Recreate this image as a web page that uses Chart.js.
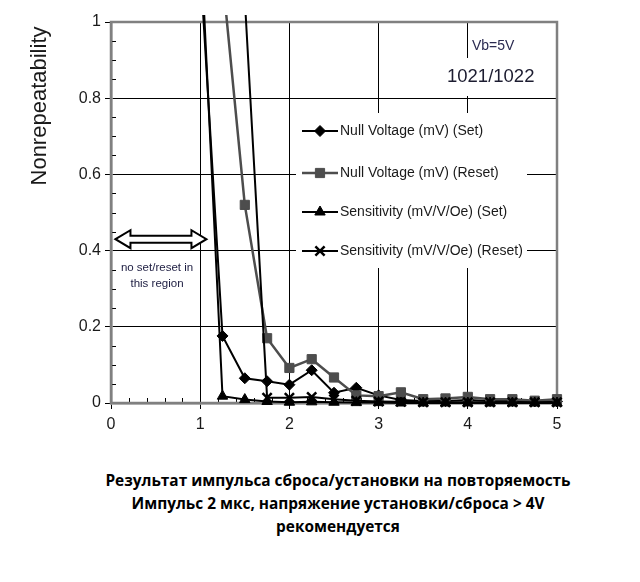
<!DOCTYPE html>
<html>
<head>
<meta charset="utf-8">
<script src="https://cdn.jsdelivr.net/npm/chart.js"></script>
<style>
  body { margin: 0; background: #fff; }
  #wrap { position: relative; width: 640px; height: 440px; }
  #caption {
    position: absolute; top: 469px; left: 0; width: 676px;
    text-align: center; font: bold 15.4px "Open Sans", sans-serif;
    line-height: 23px; color: #000;
  }
</style>
</head>
<body>
<div id="wrap"><canvas id="chart"></canvas></div>
<div id="caption">
  Результат импульса сброса/установки на повторяемость<br>
  Импульс 2 мкс, напряжение установки/сброса &gt; 4V<br>
  рекомендуется
</div>
<script>
// импульс set/reset, В
const pulse = [1, 1.25, 1.5, 1.75, 2, 2.25, 2.5, 2.75, 3, 3.25, 3.5, 3.75, 4, 4.25, 4.5, 4.75, 5];

// значения nonrepeatability (выше 1 уходят за край графика)
const nullSet    = [1.15, 0.176, 0.065, 0.057, 0.048, 0.086, 0.027, 0.04, 0.02, 0.008, 0.005, 0.005, 0.008, 0.005, 0.005, 0.004, 0.004];
const nullReset  = [null, 1.12, 0.52, 0.17, 0.092, 0.115, 0.067, 0.02, 0.018, 0.028, 0.01, 0.012, 0.016, 0.01, 0.01, 0.006, 0.01];
const sensSet    = [1.24, 0.018, 0.009, 0.004, 0.002, 0.003, 0.002, 0.001, 0.001, 0, 0, 0, 0, 0, 0, 0, 0];
const sensReset  = [null, null, 1.06, 0.014, 0.014, 0.016, 0.01, 0.006, 0.004, 0.003, 0.002, 0.002, 0.002, 0.002, 0.002, 0.002, 0.002];

const seriesNames = [
  "Null Voltage (mV) (Set)",
  "Null Voltage (mV) (Reset)",
  "Sensitivity (mV/V/Oe) (Set)",
  "Sensitivity (mV/V/Oe) (Reset)"
];

const toPoints = arr => pulse.map((x, i) => ({x: x, y: arr[i]}));

const ink = "#1a1a1a";
const border = "#808080";

function marker(ctx, ds, x, y) {
  if (Chart.helpers && Chart.helpers.drawPoint) {
    ctx.save();
    ctx.fillStyle = ds.pointBackgroundColor;
    ctx.strokeStyle = ds.pointBorderColor;
    ctx.lineWidth = ds.pointBorderWidth;
    Chart.helpers.drawPoint(ctx, {pointStyle: ds.pointStyle, radius: ds.pointRadius, borderWidth: ds.pointBorderWidth, rotation: 0}, x, y);
    ctx.restore();
  }
}

function hollowArrow(ctx, x1, x2, y) {
  const shaft = 3.5, head = 9, len = 15;
  ctx.beginPath();
  ctx.moveTo(x1, y);
  ctx.lineTo(x1 + len, y - head);
  ctx.lineTo(x1 + len, y - shaft);
  ctx.lineTo(x2 - len, y - shaft);
  ctx.lineTo(x2 - len, y - head);
  ctx.lineTo(x2, y);
  ctx.lineTo(x2 - len, y + head);
  ctx.lineTo(x2 - len, y + shaft);
  ctx.lineTo(x1 + len, y + shaft);
  ctx.lineTo(x1 + len, y + head);
  ctx.closePath();
  ctx.fillStyle = "#fff";
  ctx.fill();
  ctx.strokeStyle = "#000";
  ctx.lineWidth = 2;
  ctx.stroke();
}

const extras = {
  id: "extras",
  beforeDatasetsDraw(chart) {
    const {ctx, chartArea: a, scales: {x, y}} = chart;
    ctx.save();
    // мелкие засечки внутри области
    ctx.strokeStyle = "#000";
    ctx.lineWidth = 1;
    ctx.beginPath();
    for (let i = 1; i < 20; i++) {
      if (i % 4 === 0) continue;
      const py = Math.round(y.getPixelForValue(i * 0.05)) + 0.5;
      ctx.moveTo(a.left, py); ctx.lineTo(a.left + 5, py);
    }
    for (let i = 1; i < 25; i++) {
      if (i % 5 === 0) continue;
      const px = Math.round(x.getPixelForValue(i * 0.2)) + 0.5;
      ctx.moveTo(px, a.bottom); ctx.lineTo(px, a.bottom - 5);
    }
    ctx.stroke();
    // серая рамка
    ctx.strokeStyle = border;
    ctx.lineWidth = 2.5;
    ctx.strokeRect(a.left, a.top, a.right - a.left, a.bottom - a.top);
    ctx.restore();
  },
  afterDatasetsDraw(chart) {
    const {ctx, scales: {x, y}} = chart;
    const dsets = chart.data.datasets;
    ctx.save();
    // легенда
    ctx.fillStyle = "#fff";
    ctx.fillRect(296, 113, 231, 155);
    const rows = [131, 173, 212, 251];
    ctx.font = "14px 'Liberation Sans', Arial, sans-serif";
    ctx.textBaseline = "middle";
    rows.forEach((ry, i) => {
      const ds = dsets[i];
      ctx.strokeStyle = ds.borderColor;
      ctx.lineWidth = ds.borderWidth;
      ctx.beginPath(); ctx.moveTo(302, ry); ctx.lineTo(338, ry); ctx.stroke();
      marker(ctx, ds, 320, ry);
      ctx.fillStyle = ink;
      ctx.textAlign = "left";
      ctx.fillText(seriesNames[i], 340, ry);
    });

    // надписи справа вверху
    ctx.fillStyle = "#fff";
    ctx.fillRect(445, 58, 96, 38);
    ctx.fillStyle = "#2a2a50";
    ctx.font = "14px 'Liberation Sans', Arial, sans-serif";
    ctx.fillText("Vb=5V", 472, 46);
    ctx.fillStyle = "#1c1c30";
    ctx.font = "18.5px 'Liberation Sans', Arial, sans-serif";
    ctx.fillText("1021/1022", 447, 77);

    // зона без set/reset
    hollowArrow(ctx, x.getPixelForValue(0.05), x.getPixelForValue(1.07), y.getPixelForValue(0.43));
    ctx.fillStyle = "#fff";
    ctx.fillRect(116, 257, 84, 36);
    ctx.fillStyle = "#1c1c40";
    ctx.font = "11.5px 'Liberation Sans', Arial, sans-serif";
    ctx.textAlign = "center";
    ctx.fillText("no set/reset in", 157, 268);
    ctx.fillText("this region", 157, 284);

    // подпись оси Y
    ctx.translate(40, 106);
    ctx.rotate(-Math.PI / 2);
    ctx.fillStyle = ink;
    ctx.font = "22px 'Liberation Sans', Arial, sans-serif";
    ctx.textAlign = "center";
    ctx.fillText("Nonrepeatability", 0, 0);
    ctx.restore();
  }
};

const styles = [
  {color: "#000", pointStyle: "rectRot", radius: 5.5, width: 2},
  {color: "#4d4d4d", pointStyle: "rect", radius: 6.5, width: 2.5},
  {color: "#000", pointStyle: "triangle", radius: 6, width: 2},
  {color: "#000", pointStyle: "crossRot", radius: 6.5, width: 2}
];

const datasets = [nullSet, nullReset, sensSet, sensReset].map((arr, i) => ({
  label: seriesNames[i],
  data: toPoints(arr),
  borderColor: styles[i].color,
  backgroundColor: styles[i].color,
  borderWidth: styles[i].width,
  pointStyle: styles[i].pointStyle,
  pointRadius: styles[i].radius,
  pointBackgroundColor: styles[i].color,
  pointBorderColor: styles[i].color,
  pointBorderWidth: i === 3 ? 2.5 : 1,
  tension: 0,
  order: 4 - i,
  clip: {left: 5, top: 7, right: 8, bottom: 8}
}));

const tickFont = {family: "'Liberation Sans', Arial", size: 16};

new Chart(document.getElementById("chart"), {
  type: "line",
  data: {datasets: datasets},
  options: {
    responsive: true,
    maintainAspectRatio: false,
    animation: false,
    layout: {padding: {top: 22, right: 83, left: 0, bottom: 0}},
    plugins: {legend: {display: false}, tooltip: {enabled: false}},
    scales: {
      x: {
        type: "linear", min: 0, max: 5,
        afterFit: s => { s.height = 37; },
        ticks: {stepSize: 1, color: ink, padding: 6, font: tickFont},
        grid: {color: "#000", lineWidth: 1, tickLength: 6, tickColor: "#000"},
        border: {color: border, width: 2.5}
      },
      y: {
        min: 0, max: 1,
        afterFit: s => { s.width = 111; },
        ticks: {stepSize: 0.2, color: ink, padding: 4, font: tickFont,
                callback: v => String(+v.toFixed(2))},
        grid: {color: "#000", lineWidth: 1, tickLength: 6, tickColor: "#000"},
        border: {color: border, width: 2.5}
      }
    }
  },
  plugins: [extras]
});
</script>
</body>
</html>
